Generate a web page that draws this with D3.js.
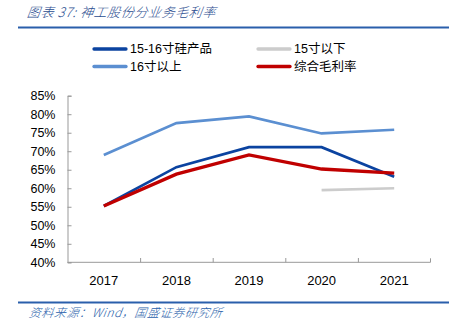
<!DOCTYPE html>
<html>
<head>
<meta charset="utf-8">
<script src="https://cdn.jsdelivr.net/npm/d3@7"></script>
<style>
body { margin: 0; background: #fff; }
text { font-family: "Liberation Sans", "Noto Sans CJK SC", sans-serif; }
</style>
</head>
<body>
<div id="chart"></div>
<script>
// chart data
var years = ["2017", "2018", "2019", "2020", "2021"];
var silicon1516 = [55.2, 65.7, 71.1, 71.1, 63.1];
var below15 = [null, null, null, 59.5, 60.0];
var above16 = [69.0, 77.6, 79.4, 74.8, 75.8];
var overall = [55.2, 63.8, 69.0, 65.2, 64.1];
var yTicks = [40, 45, 50, 55, 60, 65, 70, 75, 80, 85];

var series = [
	{name: "15-16寸硅产品", values: silicon1516, color: "#0b43a0"},
	{name: "15寸以下", values: below15, color: "#cccccc"},
	{name: "16寸以上", values: above16, color: "#5b8fd1"},
	{name: "综合毛利率", values: overall, color: "#c00000"}
];

var w = 459, h = 334;
var svg = d3.select("#chart").append("svg").attr("width", w).attr("height", h);

// title and rules
var cjk = '"Noto Sans CJK SC", sans-serif';
svg.append("text").attr("x", 27).attr("y", 17)
	.attr("font-size", 13).attr("font-style", "italic").attr("fill", "#2a4d8f")
	.attr("font-weight", 300).attr("letter-spacing", 0.6)
	.style("font-family", cjk)
	.attr("transform", "skewX(-8) translate(2,0)")
	.text("图表 37:  神工股份分业务毛利率");
svg.append("line").attr("x1", 18).attr("x2", 449).attr("y1", 27.5).attr("y2", 27.5)
	.attr("stroke", "#2a5fab").attr("stroke-width", 1.8);
svg.append("line").attr("x1", 18).attr("x2", 449).attr("y1", 302.5).attr("y2", 302.5)
	.attr("stroke", "#2a5fab").attr("stroke-width", 1.8);
svg.append("text").attr("x", 29).attr("y", 317)
	.attr("font-size", 12).attr("font-style", "italic").attr("fill", "#2a5fab")
	.attr("font-weight", 300).attr("letter-spacing", 0.6)
	.style("font-family", cjk)
	.attr("transform", "skewX(-8) translate(44,0)")
	.text("资料来源：Wind，国盛证券研究所");

// scales
var x = d3.scaleBand().domain(years).range([67.5, 430.5]);
var y = d3.scaleLinear().domain([40, 85]).range([262.3, 95.7]);

// axes
var yAxis = svg.append("g").attr("transform", "translate(67.5,0)")
	.call(d3.axisRight(y).tickValues(yTicks).tickSize(4).tickFormat(function(d){ return d + "%"; }));
yAxis.selectAll("text").attr("x", -12).attr("text-anchor", "end")
	.attr("font-size", 12.5).attr("fill", "#000");
yAxis.selectAll("line, path").attr("stroke", "#999");

var xAxis = svg.append("g").attr("transform", "translate(0,262.3)")
	.call(d3.axisTop(x).tickSize(0));
xAxis.select("path").attr("stroke", "#999").attr("d", "M67.5,0H430.5V-4");
xAxis.selectAll(".tick line").remove();
xAxis.selectAll("text").attr("y", 19).attr("dy", "0.32em").attr("font-size", 13).attr("fill", "#000");
// boundary ticks between categories
svg.selectAll(".sep").data(years.slice(1)).enter().append("line")
	.attr("x1", function(d){ return x(d) + 0.5; }).attr("x2", function(d){ return x(d) + 0.5; })
	.attr("y1", 262.3).attr("y2", 258).attr("stroke", "#999");

// lines
var line = d3.line()
	.defined(function(d){ return d != null; })
	.x(function(d, i){ return x(years[i]) + x.bandwidth() / 2; })
	.y(function(d){ return y(d); });

svg.selectAll(".series").data(series).enter().append("path")
	.attr("fill", "none")
	.attr("stroke", function(d){ return d.color; })
	.attr("stroke-width", function(d){ return d.name == "综合毛利率" ? 3.3 : 2.7; })
	.attr("d", function(d){ return line(d.values); });

// legend
var legendPos = [[94, 49], [258, 49], [94, 66.5], [258, 66.5]];
var lg = svg.selectAll(".legend").data(series).enter().append("g")
	.attr("transform", function(d, i){ return "translate(" + legendPos[i][0] + "," + legendPos[i][1] + ")"; });
lg.append("line").attr("x1", 0).attr("x2", 32).attr("y1", 0).attr("y2", 0)
	.attr("stroke", function(d){ return d.color; }).attr("stroke-width", 3.3)
	.attr("stroke-linecap", "round");
lg.append("text").attr("x", 36).attr("dy", "0.35em").attr("font-size", 12.5).attr("fill", "#000")
	.text(function(d){ return d.name; });
</script>
</body>
</html>
